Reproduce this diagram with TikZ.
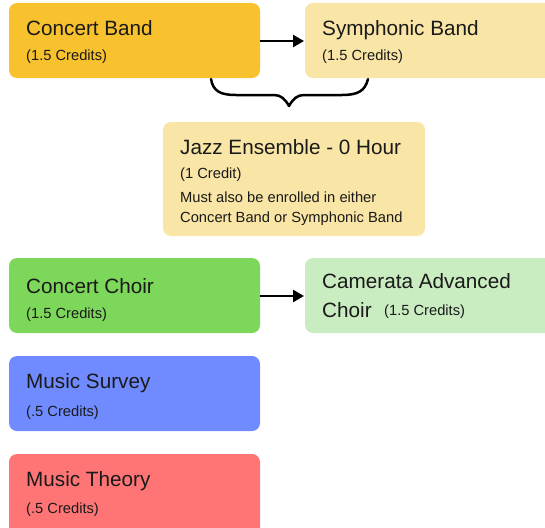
\documentclass[tikz,border=0pt]{standalone}
\usepackage{fontspec}
\setmainfont{Liberation Sans}
\usetikzlibrary{arrows.meta}
\definecolor{cband}{HTML}{F8C22E}
\definecolor{lyel}{HTML}{F9E5A5}
\definecolor{gchoir}{HTML}{7DD75A}
\definecolor{lgreen}{HTML}{C9ECC0}
\definecolor{bsurvey}{HTML}{6F8BFF}
\definecolor{rtheory}{HTML}{FF7575}
\definecolor{txt}{HTML}{1A1A1A}
\begin{document}
\begin{tikzpicture}[x=1pt,y=-1pt,
  ttl/.style={anchor=base west,inner sep=0pt,font=\fontsize{20.7}{24}\selectfont,text=txt},
  sub/.style={anchor=base west,inner sep=0pt,font=\fontsize{14.7}{17}\selectfont,text=txt},
  conn/.style={line width=2.5pt,-{Triangle[length=11pt,width=12pt]}},
  bracepath/.style={line width=2.5pt,line join=round,line cap=round}]
\useasboundingbox (0,0) rectangle (545,527);
% boxes
\fill[cband,rounded corners=8pt] (9,3) rectangle (260,78);
\coordinate (cbE) at (260,41);
\fill[lyel,rounded corners=8pt] (305,3) rectangle (553,78);
\coordinate (sbW) at (304,41);
\fill[lyel,rounded corners=8pt] (163,122) rectangle (425,236);
\fill[gchoir,rounded corners=8pt] (9,258) rectangle (260,333);
\coordinate (ccE) at (260,296);
\fill[lgreen,rounded corners=8pt] (305,258) rectangle (553,333);
\coordinate (caW) at (304,296);
\fill[bsurvey,rounded corners=8pt] (9,356) rectangle (260,431);
\fill[rtheory,rounded corners=8pt] (9,454) rectangle (260,535);
% texts
\node[ttl] (t1) at (26,35) {Concert Band};
\node[sub] (s1) at (26,60) {(1.5 Credits)};
\node[ttl] (t2) at (322,35) {Symphonic Band};
\node[sub] (s2) at (322,60) {(1.5 Credits)};
\node[ttl] (t3) at (180,154) {Jazz Ensemble - 0 Hour};
\node[sub] (s3) at (180,178) {(1 Credit)};
\node[sub] (s3b) at (180,202) {Must also be enrolled in either};
\node[sub] (s3c) at (180,222) {Concert Band or Symphonic Band};
\node[ttl] (t4) at (26,293) {Concert Choir};
\node[sub] (s4) at (26,318) {(1.5 Credits)};
\node[ttl] (t5) at (322,288) {Camerata Advanced};
\node[ttl] (t5b) at (322,317) {Choir};
\node[sub] (s5) at (384,315) {(1.5 Credits)};
\node[ttl] (t6) at (26,388) {Music Survey};
\node[sub] (s6) at (26,416) {(.5 Credits)};
\node[ttl] (t7) at (26,486) {Music Theory};
\node[sub] (s7) at (26,513) {(.5 Credits)};
% connectors
\draw[conn] (cbE) -- (sbW);
\draw[conn] (ccE) -- (caW);
% brace
\coordinate (bl) at (211,79);
\coordinate (br) at (368,79);
\coordinate (btip) at (289,106);
\draw[bracepath] (bl) .. controls (213,91) and (220,95) .. (236,95)
  -- (274,95) .. controls (281,95) and (285,99) .. (btip)
  .. controls (293,99) and (297,95) .. (304,95)
  -- (342,95) .. controls (358,95) and (365,91) .. (br);
\end{tikzpicture}
\end{document}
